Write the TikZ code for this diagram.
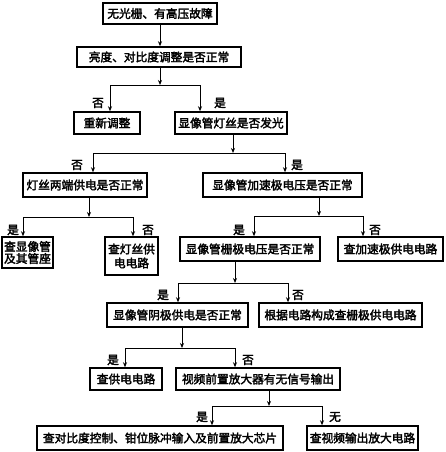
\documentclass[tikz,border=0pt]{standalone}
\usepackage{fontspec}
\newfontfamily\cjk{Noto Sans CJK SC}[FakeBold=2.5]
\usetikzlibrary{arrows.meta}
\begin{document}
\begin{tikzpicture}[x=1pt,y=-1pt,
  box/.style={draw, line width=1.5pt, inner sep=0pt, align=center, font=\cjk\fontsize{11.7}{14}\selectfont},
  lbl/.style={inner sep=0pt, font=\cjk\fontsize{11.7}{14}\selectfont},
  conn/.style={line width=0.8pt},
  arr/.style={line width=0.8pt, -{Stealth[length=5pt,width=4pt]}}]
\useasboundingbox[fill=white] (0,0) rectangle (445,452);
% boxes
\node[box, minimum width=114pt, minimum height=21pt] (n1) at (160,13.5) {无光栅、有高压故障};
\node[box, minimum width=164pt, minimum height=20pt] (n2) at (159,57) {亮度、对比度调整是否正常};
\node[box, minimum width=66pt, minimum height=22pt] (n3) at (107,123) {重新调整};
\node[box, minimum width=112pt, minimum height=22pt] (n4) at (231,123) {显像管灯丝是否发光};
\node[box, minimum width=124pt, minimum height=24pt] (n5) at (85,185) {灯丝两端供电是否正常};
\node[box, minimum width=159pt, minimum height=24pt] (n6) at (282.5,185) {显像管加速极电压是否正常};
\node[box, minimum width=51pt, minimum height=31pt] (n7) at (27.5,252.5) {查显像管\\[-2pt]及其管座};
\node[box, minimum width=53pt, minimum height=38pt] (n8) at (131.5,256) {查灯丝供\\[0pt]电电路};
\node[box, minimum width=140pt, minimum height=24pt] (n9) at (250,249) {显像管栅极电压是否正常};
\node[box, minimum width=105pt, minimum height=24pt] (n10) at (390.5,249) {查加速极供电电路};
\node[box, minimum width=141pt, minimum height=24pt] (n11) at (177.5,315) {显像管阴极供电是否正常};
\node[box, minimum width=163pt, minimum height=24pt] (n12) at (340.5,315) {根据电路构成查栅极供电电路};
\node[box, minimum width=72pt, minimum height=22pt] (n13) at (126,379) {查供电电路};
\node[box, minimum width=164pt, minimum height=22pt] (n14) at (258,379) {视频前置放大器有无信号输出};
\node[box, minimum width=246pt, minimum height=24pt] (n15) at (160,438) {查对比度控制、钳位脉冲输入及前置放大芯片};
\node[box, minimum width=111pt, minimum height=24pt] (n16) at (362.5,438) {查视频输出放大电路};
% n1 -> n2
\coordinate (c1) at (160,0);
\draw[arr] (n1.south -| c1) -- (n2.north -| c1);
% branch 1
\coordinate (j1) at (160,85); \coordinate (j1l) at (110,85); \coordinate (j1r) at (200,85);
\draw[arr] (n2.south -| j1) -- (j1);
\draw[conn] (j1l) -- (j1r);
\draw[arr] (j1l) -- (j1l |- n3.north);
\draw[arr] (j1r) -- (j1r |- n4.north);
\node[lbl] (t1a) at (98,103) {否};
\node[lbl] (t1b) at (220,103) {是};
% branch 2
\coordinate (j2) at (233,153); \coordinate (j2l) at (93,153); \coordinate (j2r) at (285,153);
\draw[arr] (n4.south -| j2) -- (j2);
\draw[conn] (j2l) -- (j2r);
\draw[arr] (j2l) -- (j2l |- n5.north);
\draw[arr] (j2r) -- (j2r |- n6.north);
\node[lbl] (t2a) at (77,165) {否};
\node[lbl] (t2b) at (297,165) {是};
% branch 3
\coordinate (j3) at (89,217); \coordinate (j3l) at (23,217); \coordinate (j3r) at (133,217);
\draw[arr] (n5.south -| j3) -- (j3);
\draw[conn] (j3l) -- (j3r);
\draw[arr] (j3l) -- (j3l |- n7.north);
\draw[arr] (j3r) -- (j3r |- n8.north);
\node[lbl] (t3a) at (13,230) {是};
\node[lbl] (t3b) at (148,230) {否};
% branch 4
\coordinate (j4) at (319,216); \coordinate (j4l) at (254,216); \coordinate (j4r) at (363,216);
\draw[arr] (n6.south -| j4) -- (j4);
\draw[conn] (j4l) -- (j4r);
\draw[arr] (j4l) -- (j4l |- n9.north);
\draw[arr] (j4r) -- (j4r |- n10.north);
\node[lbl] (t4a) at (239,230) {是};
\node[lbl] (t4b) at (375,230) {否};
% branch 5
\coordinate (j5) at (235,283); \coordinate (j5l) at (178,283); \coordinate (j5r) at (288,283);
\draw[arr] (n9.south -| j5) -- (j5);
\draw[conn] (j5l) -- (j5r);
\draw[arr] (j5l) -- (j5l |- n11.north);
\draw[arr] (j5r) -- (j5r |- n12.north);
\node[lbl] (t5a) at (163,295) {是};
\node[lbl] (t5b) at (298,295) {否};
% branch 6
\coordinate (j6) at (182,348); \coordinate (j6l) at (125,348); \coordinate (j6r) at (235,348);
\draw[arr] (n11.south -| j6) -- (j6);
\draw[conn] (j6l) -- (j6r);
\draw[arr] (j6l) -- (j6l |- n13.north);
\draw[arr] (j6r) -- (j6r |- n14.north);
\node[lbl] (t6a) at (113,360) {是};
\node[lbl] (t6b) at (248,360) {否};
% branch 7
\coordinate (j7) at (269,406); \coordinate (j7l) at (212,406); \coordinate (j7r) at (322,406);
\draw[arr] (n14.south -| j7) -- (j7);
\draw[conn] (j7l) -- (j7r);
\draw[arr] (j7l) -- (j7l |- n15.north);
\draw[arr] (j7r) -- (j7r |- n16.north);
\node[lbl] (t7a) at (202,417) {是};
\node[lbl] (t7b) at (335,417) {无};
\end{tikzpicture}
\end{document}
